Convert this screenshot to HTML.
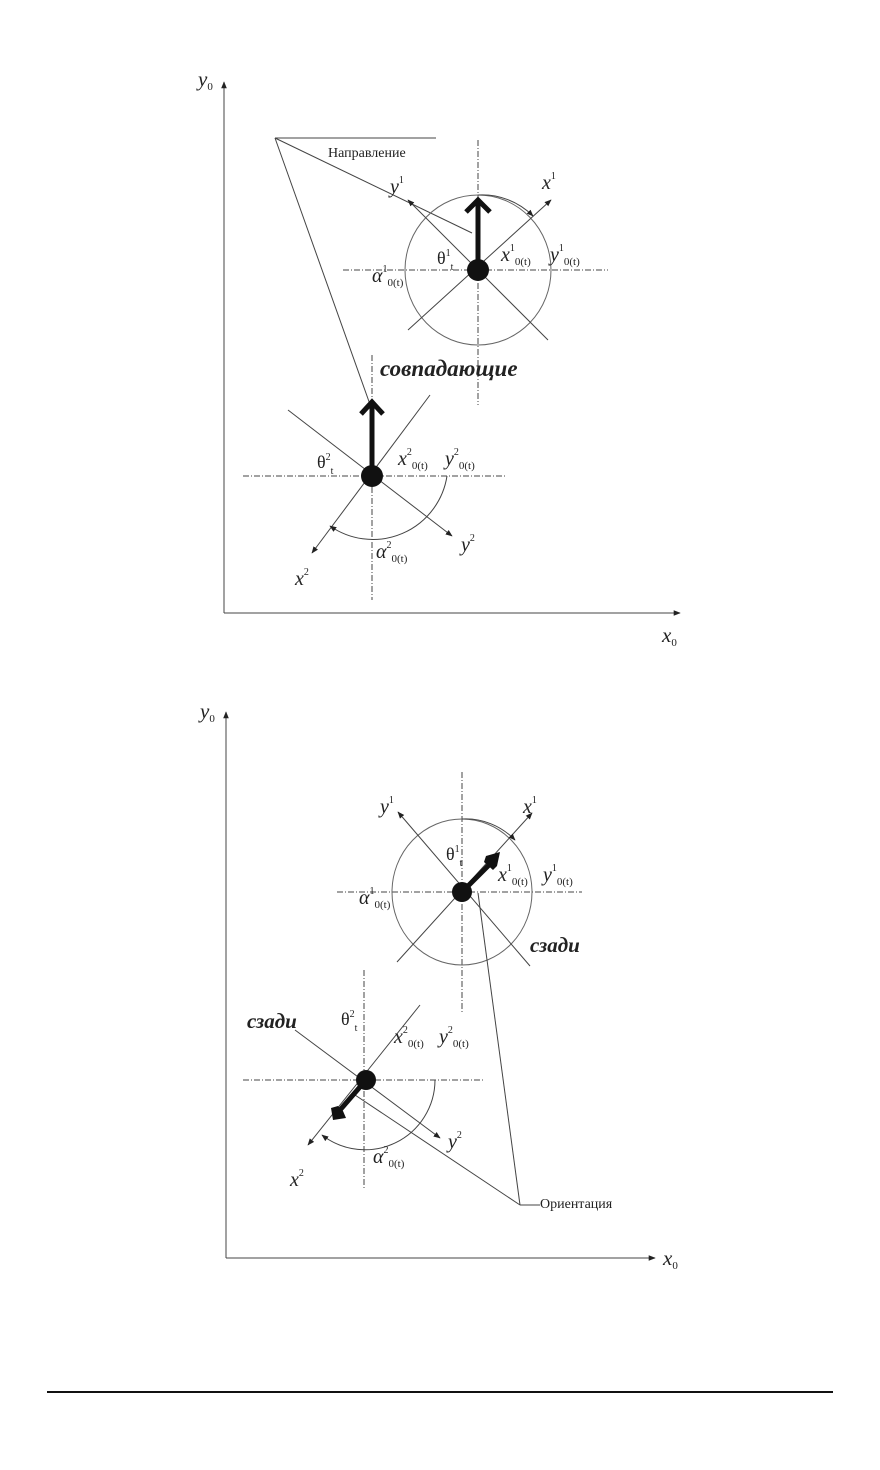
<!DOCTYPE html>
<html><head><meta charset="utf-8"><style>
body{margin:0;background:#fff}
svg{display:block}
text{font-family:"Liberation Serif",serif;fill:#222}
.it{font-style:italic}
</style></head><body>
<svg width="880" height="1470" viewBox="0 0 880 1470" xmlns="http://www.w3.org/2000/svg">
<defs>
<marker id="a" viewBox="0 0 10 10" refX="9" refY="5" markerWidth="7" markerHeight="7" orient="auto-start-reverse"><path d="M0,1 L10,5 L0,9 z" fill="#222"/></marker>
</defs>
<g stroke="#444" fill="none" stroke-width="1">
<!-- TOP DIAGRAM -->
<line x1="224" y1="613" x2="224" y2="82" marker-end="url(#a)"/>
<line x1="224" y1="613" x2="680" y2="613" marker-end="url(#a)"/>
<line x1="275" y1="138" x2="436" y2="138"/>
<line x1="275" y1="138" x2="472" y2="233"/>
<line x1="275" y1="138" x2="372" y2="410"/>
<line x1="478" y1="140" x2="478" y2="405" stroke-dasharray="6,2,1,2"/>
<line x1="343" y1="270" x2="608" y2="270" stroke-dasharray="6,2,1,2"/>
<ellipse cx="478" cy="270" rx="73" ry="75" stroke="#666"/>
<line x1="408" y1="330" x2="551" y2="200" marker-end="url(#a)"/>
<line x1="548" y1="340" x2="408" y2="200" marker-end="url(#a)"/>
<path d="M478,195 A73,75 0 0 1 533,216" marker-end="url(#a)"/>
<line x1="372" y1="355" x2="372" y2="600" stroke-dasharray="6,2,1,2"/>
<line x1="243" y1="476" x2="505" y2="476" stroke-dasharray="6,2,1,2"/>
<line x1="288" y1="410" x2="452" y2="536" marker-end="url(#a)"/>
<line x1="430" y1="395" x2="312" y2="553" marker-end="url(#a)"/>
<path d="M447,476 A75,75 0 0 1 330,526" marker-end="url(#a)"/>
<!-- BOTTOM DIAGRAM -->
<line x1="226" y1="1258" x2="226" y2="712" marker-end="url(#a)"/>
<line x1="226" y1="1258" x2="655" y2="1258" marker-end="url(#a)"/>
<line x1="462" y1="772" x2="462" y2="1012" stroke-dasharray="6,2,1,2"/>
<line x1="337" y1="892" x2="582" y2="892" stroke-dasharray="6,2,1,2"/>
<ellipse cx="462" cy="892" rx="70" ry="73" stroke="#666"/>
<line x1="397" y1="962" x2="532" y2="813" marker-end="url(#a)"/>
<line x1="530" y1="966" x2="398" y2="812" marker-end="url(#a)"/>
<path d="M462,819 A70,73 0 0 1 515,840" marker-end="url(#a)"/>
<line x1="364" y1="970" x2="364" y2="1190" stroke-dasharray="6,2,1,2"/>
<line x1="243" y1="1080" x2="485" y2="1080" stroke-dasharray="6,2,1,2"/>
<line x1="295" y1="1030" x2="440" y2="1138" marker-end="url(#a)"/>
<line x1="420" y1="1005" x2="308" y2="1145" marker-end="url(#a)"/>
<path d="M435,1080 A70,70 0 0 1 322,1135" marker-end="url(#a)"/>
<line x1="520" y1="1205" x2="478" y2="893"/>
<line x1="520" y1="1205" x2="352" y2="1093"/>
<line x1="520" y1="1205" x2="540" y2="1205"/>
</g>
<g stroke="#111" stroke-width="5" fill="none">
<line x1="478" y1="270" x2="478" y2="200"/>
<polyline points="466,212 478,200 490,212"/>
<line x1="372" y1="476" x2="372" y2="402"/>
<polyline points="361,414 372,402 383,414"/>
<line x1="462" y1="892" x2="492" y2="862"/>
<line x1="366" y1="1080" x2="340" y2="1110"/>
</g>
<g fill="#111">
<circle cx="478" cy="270" r="11"/>
<circle cx="372" cy="476" r="11"/>
<circle cx="462" cy="892" r="10"/>
<circle cx="366" cy="1080" r="10"/>
<polygon points="486,856 500,852 497,866 493,870 484,862"/>
<polygon points="333,1120 346,1118 343,1111 338,1106 331,1108"/>
</g>
<line x1="47" y1="1392" x2="833" y2="1392" stroke="#111" stroke-width="2"/>
<text x="198" y="86" font-size="21" class="it">y<tspan font-size="11" dy="4" font-style="normal">0</tspan></text>
<text x="662" y="642" font-size="21" class="it">x<tspan font-size="11" dy="4" font-style="normal">0</tspan></text>
<text x="328" y="157" font-size="14">Направление</text>
<text x="390" y="193" font-size="20" class="it">y<tspan font-size="10" dy="-10" font-style="normal">1</tspan></text>
<text x="542" y="189" font-size="20" class="it">x<tspan font-size="10" dy="-10" font-style="normal">1</tspan></text>
<text x="437" y="264" font-size="18">θ<tspan font-size="10" dy="-8">1</tspan><tspan font-size="10" dy="14">t</tspan></text>
<text x="501" y="261" font-size="20" class="it">x<tspan font-size="10" dy="-10" font-style="normal">1</tspan><tspan font-size="11" dy="14" font-style="normal">0(t)</tspan></text>
<text x="550" y="261" font-size="20" class="it">y<tspan font-size="10" dy="-10" font-style="normal">1</tspan><tspan font-size="11" dy="14" font-style="normal">0(t)</tspan></text>
<text x="372" y="282" font-size="20" class="it">α<tspan font-size="10" dy="-10" font-style="normal">1</tspan><tspan font-size="11" dy="14" font-style="normal">0(t)</tspan></text>
<text x="380" y="376" font-size="23" font-weight="bold" class="it">совпадающие</text>
<text x="317" y="468" font-size="18">θ<tspan font-size="10" dy="-8">2</tspan><tspan font-size="10" dy="14">t</tspan></text>
<text x="398" y="465" font-size="20" class="it">x<tspan font-size="10" dy="-10" font-style="normal">2</tspan><tspan font-size="11" dy="14" font-style="normal">0(t)</tspan></text>
<text x="445" y="465" font-size="20" class="it">y<tspan font-size="10" dy="-10" font-style="normal">2</tspan><tspan font-size="11" dy="14" font-style="normal">0(t)</tspan></text>
<text x="461" y="551" font-size="20" class="it">y<tspan font-size="10" dy="-10" font-style="normal">2</tspan></text>
<text x="295" y="585" font-size="20" class="it">x<tspan font-size="10" dy="-10" font-style="normal">2</tspan></text>
<text x="376" y="558" font-size="20" class="it">α<tspan font-size="10" dy="-10" font-style="normal">2</tspan><tspan font-size="11" dy="14" font-style="normal">0(t)</tspan></text>
<text x="200" y="718" font-size="21" class="it">y<tspan font-size="11" dy="4" font-style="normal">0</tspan></text>
<text x="663" y="1265" font-size="21" class="it">x<tspan font-size="11" dy="4" font-style="normal">0</tspan></text>
<text x="380" y="813" font-size="20" class="it">y<tspan font-size="10" dy="-10" font-style="normal">1</tspan></text>
<text x="523" y="813" font-size="20" class="it">x<tspan font-size="10" dy="-10" font-style="normal">1</tspan></text>
<text x="446" y="860" font-size="18">θ<tspan font-size="10" dy="-8">1</tspan><tspan font-size="10" dy="14">t</tspan></text>
<text x="498" y="881" font-size="20" class="it">x<tspan font-size="10" dy="-10" font-style="normal">1</tspan><tspan font-size="11" dy="14" font-style="normal">0(t)</tspan></text>
<text x="543" y="881" font-size="20" class="it">y<tspan font-size="10" dy="-10" font-style="normal">1</tspan><tspan font-size="11" dy="14" font-style="normal">0(t)</tspan></text>
<text x="359" y="904" font-size="20" class="it">α<tspan font-size="10" dy="-10" font-style="normal">1</tspan><tspan font-size="11" dy="14" font-style="normal">0(t)</tspan></text>
<text x="530" y="952" font-size="21" font-weight="bold" class="it">сзади</text>
<text x="247" y="1028" font-size="21" font-weight="bold" class="it">сзади</text>
<text x="341" y="1025" font-size="18">θ<tspan font-size="10" dy="-8">2</tspan><tspan font-size="10" dy="14">t</tspan></text>
<text x="394" y="1043" font-size="20" class="it">x<tspan font-size="10" dy="-10" font-style="normal">2</tspan><tspan font-size="11" dy="14" font-style="normal">0(t)</tspan></text>
<text x="439" y="1043" font-size="20" class="it">y<tspan font-size="10" dy="-10" font-style="normal">2</tspan><tspan font-size="11" dy="14" font-style="normal">0(t)</tspan></text>
<text x="448" y="1148" font-size="20" class="it">y<tspan font-size="10" dy="-10" font-style="normal">2</tspan></text>
<text x="290" y="1186" font-size="20" class="it">x<tspan font-size="10" dy="-10" font-style="normal">2</tspan></text>
<text x="373" y="1163" font-size="20" class="it">α<tspan font-size="10" dy="-10" font-style="normal">2</tspan><tspan font-size="11" dy="14" font-style="normal">0(t)</tspan></text>
<text x="540" y="1208" font-size="14">Ориентация</text>
</svg>
</body></html>
